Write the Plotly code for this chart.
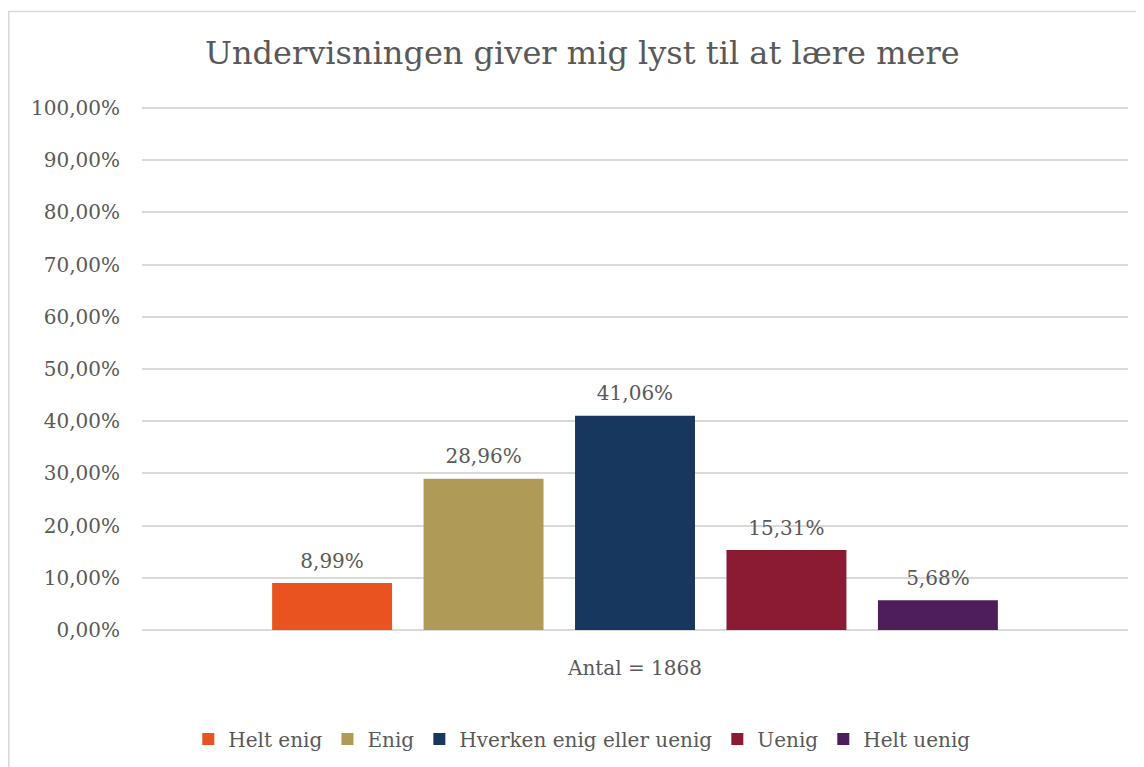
import plotly.graph_objects as go

# Survey answers, share of respondents
category = ["Antal = 1868"]
answers = ["Helt enig", "Enig", "Hverken enig eller uenig", "Uenig", "Helt uenig"]
shares = [0.0899, 0.2896, 0.4106, 0.1531, 0.0568]
colors = ["#E8531F", "#B09A58", "#17375E", "#8B1A33", "#4E1E5A"]
y_ticks = [i / 10 for i in range(11)]

font_name = "DejaVu Serif"
grey = "#595959"

fig = go.Figure()
for i, (name, val, col) in enumerate(zip(answers, shares, colors)):
    fig.add_trace(go.Bar(
        x=category,
        y=[val],
        name=name,
        offsetgroup=str(i),
        marker=dict(color=col, line=dict(width=0)),
    ))
    # value labels, grouped the same way as the bars
    fig.add_trace(go.Scatter(
        x=category,
        y=[val],
        mode="markers+text",
        offsetgroup=str(i),
        text=[f"{val * 100:.2f}%".replace(".", ",")],
        textposition="top center",
        textfont=dict(size=20, color=grey, family=font_name),
        marker=dict(size=15, opacity=0),
        showlegend=False,
        hoverinfo="skip",
        cliponaxis=False,
    ))

# plot area inside the figure (page has an 8px body margin)
W, H = 1144, 767
ml, mr, mt, mb = 134, 24, 99, 145
pw, ph = W - ml - mr, H - mt - mb

# light frame around the whole chart (Excel chart area border)
fig.add_shape(
    type="rect", xref="paper", yref="paper",
    x0=(0.8 - ml) / pw, x1=(W + 20 - ml) / pw,
    y0=-(mb + 20) / ph, y1=(H - mb - 3.5) / ph,
    line=dict(color="#D9D9D9", width=1.5), fillcolor="rgba(0,0,0,0)", layer="below",
)

fig.update_layout(
    width=W,
    height=H,
    separators=",.",
    paper_bgcolor="white",
    plot_bgcolor="white",
    font=dict(family=font_name, color=grey),
    title=dict(
        text="Undervisningen giver mig lyst til at lære mere",
        x=0.502, xanchor="center", y=0.941, yanchor="middle",
        font=dict(size=32, color=grey, family=font_name),
    ),
    margin=dict(l=ml, r=mr, t=mt, b=mb, autoexpand=False),
    barmode="group",
    bargap=0.232,
    bargroupgap=0.208,
    scattermode="group",
    scattergap=0.232,
    xaxis=dict(
        tickfont=dict(size=20, color=grey),
        showline=False,
        ticks="",
        ticklabelstandoff=24,
    ),
    yaxis=dict(
        range=[0, 1.002],
        tickvals=y_ticks,
        tickformat=".2%",
        tickfont=dict(size=20, color=grey),
        gridcolor="#D9D9D9",
        gridwidth=1.5,
        zeroline=True,
        zerolinecolor="#D9D9D9",
        zerolinewidth=1.5,
        showline=False,
        ticks="",
        ticklabelstandoff=21,
    ),
    legend=dict(
        orientation="h",
        xref="container", yref="container",
        x=0.502, xanchor="center",
        y=0.047, yanchor="middle",
        font=dict(size=20, color=grey),
        itemwidth=30,
        traceorder="normal",
    ),
)

fig.write_html("out.html")
